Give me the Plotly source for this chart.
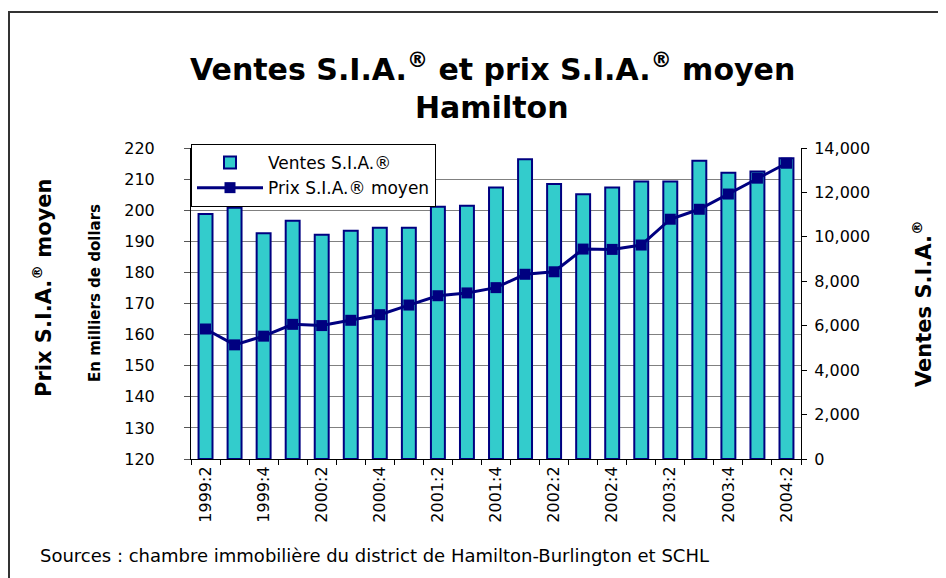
import plotly.graph_objects as go

categories = ["1999:2", "1999:3", "1999:4", "2000:1", "2000:2", "2000:3", "2000:4",
              "2001:1", "2001:2", "2001:3", "2001:4", "2002:1", "2002:2", "2002:3", "2002:4",
              "2003:1", "2003:2", "2003:3", "2003:4", "2004:1", "2004:2"]
ventes = [11030, 11310, 10160, 10720, 10090, 10270, 10410, 10410, 11360, 11400, 12220,
          13490, 12380, 11920, 12220, 12490, 12490, 13430, 12890, 12940, 13540]
prix = [161.8, 156.7, 159.5, 163.3, 162.9, 164.6, 166.4, 169.5, 172.5, 173.4, 175.1,
        179.4, 180.2, 187.5, 187.4, 188.8, 197.1, 200.3, 205.2, 210.3, 215.1]

n = len(categories)
xpos = list(range(n))
label_pos = xpos[::2]
label_text = categories[::2]
boundaries = [i - 0.5 for i in range(n + 1)]

NAVY = "#000080"
TURQ = "#33CCCC"
WIDE = "'DejaVu Sans', Verdana, sans-serif"

# page offset (browser body margin) compensation: reference px -> figure px
OFF = 8
L, R, T, B = 191, 801, 148, 459   # plot area in reference (page) pixels
W, H = 946 - OFF, 578 - OFF
PW, PH = R - L, B - T

fig = go.Figure()
fig.add_trace(go.Bar(
    x=xpos, y=ventes, name="Ventes S.I.A.®", yaxis="y",
    width=0.48, marker=dict(color=TURQ, line=dict(color=NAVY, width=2)),
))
fig.add_trace(go.Scatter(
    x=xpos, y=prix, name="Prix S.I.A.® moyen", yaxis="y2",
    mode="lines+markers", line=dict(color=NAVY, width=3),
    marker=dict(symbol="square", size=11, color=NAVY),
))

fig.update_layout(
    width=W, height=H,
    margin=dict(l=L - OFF, r=W - (R - OFF), t=T - OFF, b=H - (B - OFF)),
    paper_bgcolor="white", plot_bgcolor="white",
    showlegend=True,
    xaxis=dict(
        range=[-0.5, n - 0.5], tickmode="array", tickvals=label_pos, ticktext=label_text,
        ticks="", showline=True, linecolor="black", linewidth=1, tickangle=-90,
        tickfont=dict(family=WIDE, size=16, color="black"), showgrid=False, zeroline=False,
        minor=dict(tickmode="array", tickvals=boundaries, ticks="outside", ticklen=5,
                   tickcolor="black", showgrid=False),
    ),
    yaxis=dict(
        side="right", range=[0, 14000], dtick=2000, tickformat=",",
        showgrid=False, showline=True, linecolor="black", linewidth=1,
        ticks="outside", ticklen=5, tickcolor="black", ticklabelstandoff=4,
        tickfont=dict(family=WIDE, size=16, color="black"), zeroline=False,
    ),
    yaxis2=dict(
        overlaying="y", side="left", range=[120, 220], dtick=10,
        showgrid=True, gridcolor="#808080", gridwidth=1,
        showline=True, linecolor="black", linewidth=1,
        ticks="outside", ticklen=6, tickcolor="#555555", ticklabelstandoff=26,
        tickfont=dict(family=WIDE, size=16, color="black"), zeroline=False,
    ),
    legend=dict(
        x=0.0, y=(B - 144) / PH, xanchor="left", yanchor="top",
        bgcolor="white", bordercolor="black", borderwidth=1,
        font=dict(family=WIDE, size=17, color="black"),
        traceorder="normal", tracegroupgap=0, itemwidth=66,
    ),
)

annotations = [
    dict(text="Ventes S.I.A.<sup>®</sup> et prix S.I.A.<sup>®</sup> moyen", x=492, y=68,
         font=dict(family=WIDE, size=30, color="black", weight="bold")),
    dict(text="Hamilton", x=492, y=107,
         font=dict(family=WIDE, size=30, color="black", weight="bold")),
    dict(text="Prix S.I.A.<sup>®</sup> moyen", x=42, y=288, textangle=-90,
         font=dict(family=WIDE, size=21, color="black", weight="bold")),
    dict(text="En milliers de dollars", x=95, y=293, textangle=-90,
         font=dict(family=WIDE, size=15, color="black", weight="bold")),
    dict(text="Ventes S.I.A.<sup>®</sup>", x=922, y=304, textangle=-90,
         font=dict(family=WIDE, size=21, color="black", weight="bold")),
    dict(text="Sources : chambre immobilière du district de Hamilton-Burlington et SCHL",
         x=38, y=555, xanchor="left",
         font=dict(family=WIDE, size=18, color="black")),
]
for a in annotations:
    px, py = a.pop("x"), a.pop("y")
    a.setdefault("xanchor", "center")
    fig.add_annotation(
        x=(px - L) / PW, y=(B - py) / PH, xref="paper", yref="paper",
        yanchor="middle", showarrow=False, **a,
    )

fig.add_shape(type="rect", xref="paper", yref="paper",
              x0=(1 - (L - OFF)) / PW, x1=(990 - L) / PW,
              y0=(B - 620) / PH, y1=(B - 12) / PH,
              line=dict(color="#333333", width=2), fillcolor="rgba(0,0,0,0)", layer="below")

fig.write_html("out.html")
